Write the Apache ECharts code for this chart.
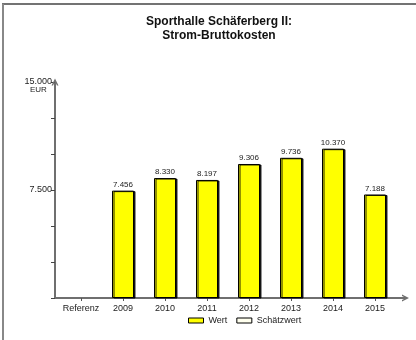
<!DOCTYPE html>
<html><head><meta charset="utf-8">
<script src="https://cdn.jsdelivr.net/npm/echarts@6/dist/echarts.min.js"></script>
<style>html,body{margin:0;padding:0;background:#fff}#c{width:416px;height:340px}</style>
</head><body><div id="c"></div>
<script>
var categories = ['Referenz','2009','2010','2011','2012','2013','2014','2015'];
var wertValues = ['-',7456,8330,8197,9306,9736,10370,7188];
var schaetzValues = ['-','-','-','-','-','-','-','-'];
var labeledTicks = [7500,15000];
var titleLines = ['Sporthalle Schäferberg II:','Strom-Bruttokosten'];
var unitLabel = 'EUR';

function de(v){ return String(v).replace(/\B(?=(\d{3})+(?!\d))/g,'.'); }
var chev = 'path://M0,10 L5,0 L10,10 L7.8,10 L5,4.4 L2.2,10 Z';
var FONT = 'Liberation Sans, Arial, sans-serif';
var chart = echarts.init(document.getElementById('c'), null, {renderer:'canvas'});
chart.setOption({
  animation:false,
  backgroundColor:'#fff',
  textStyle:{fontFamily:FONT},
  title:{text:titleLines.join('\n'), left:219, top:15, textAlign:'center', padding:0,
    textStyle:{fontSize:12, fontWeight:'bold', color:'#111', lineHeight:14, fontFamily:FONT}},
  graphic:[
    {type:'line', shape:{x1:2,y1:4,x2:416,y2:4}, style:{stroke:'#444', lineWidth:1.5}},
    {type:'line', shape:{x1:3,y1:4,x2:3,y2:340}, style:{stroke:'#888', lineWidth:2}},
    {type:'text', left:30, top:86, style:{text:unitLabel, fontSize:8, fill:'#222', fontFamily:FONT}}
  ],
  legend:{left:188, top:316, icon:'rect', itemWidth:15, itemHeight:5, itemGap:9, padding:0,
    itemStyle:{borderWidth:1, borderColor:'#000'},
    textStyle:{fontSize:9, color:'#222', fontFamily:FONT},
    data:['Wert','Schätzwert']},
  grid:[
    {left:55, right:10.5, top:82, bottom:42},
    {left:60, width:336, top:82, bottom:42}
  ],
  xAxis:[
    {gridIndex:0, type:'value', min:0, max:1, axisLabel:{show:false}, axisTick:{show:false}, splitLine:{show:false},
      axisLine:{show:true, symbol:['none', chev], symbolSize:[7,8], lineStyle:{color:'#6f6f6f', width:2}}},
    {gridIndex:1, type:'category', data:categories, boundaryGap:true,
      axisLine:{show:false},
      axisTick:{show:true, alignWithLabel:true, interval:0, length:3, lineStyle:{color:'#555', width:1}},
      axisLabel:{fontSize:9, color:'#222', margin:6, interval:0, fontFamily:FONT}}
  ],
  yAxis:[
    {gridIndex:0, type:'value', min:0, max:1, axisLabel:{show:false}, axisTick:{show:false}, splitLine:{show:false},
      axisLine:{show:true, symbol:['none', chev], symbolSize:[7,8], lineStyle:{color:'#6f6f6f', width:2}}},
    {gridIndex:1, type:'value', min:0, max:15000, interval:2500, offset:5,
      axisLine:{show:false}, splitLine:{show:false},
      axisTick:{show:true, length:4, lineStyle:{color:'#444', width:1}},
      axisLabel:{fontSize:9, color:'#222', margin:3, fontFamily:FONT,
        formatter:function(v){ return labeledTicks.indexOf(v)>=0 ? de(v) : ''; }}}
  ],
  series:[
    {name:'Wert', type:'bar', xAxisIndex:1, yAxisIndex:1, stack:'s', barWidth:22, data:wertValues,
      itemStyle:{color:'#ffff00', borderColor:'#000', borderWidth:1,
        shadowColor:'rgba(0,0,0,0.85)', shadowOffsetX:1.5, shadowOffsetY:0.5, shadowBlur:0},
      label:{show:true, position:'top', distance:2, fontSize:8, color:'#222', fontFamily:FONT,
        formatter:function(p){ return de(p.value); }}},
    {name:'Schätzwert', type:'bar', xAxisIndex:1, yAxisIndex:1, stack:'s', barWidth:22, data:schaetzValues,
      itemStyle:{color:'#ffffee', borderColor:'#000', borderWidth:1}}
  ]
});
</script></body></html>
